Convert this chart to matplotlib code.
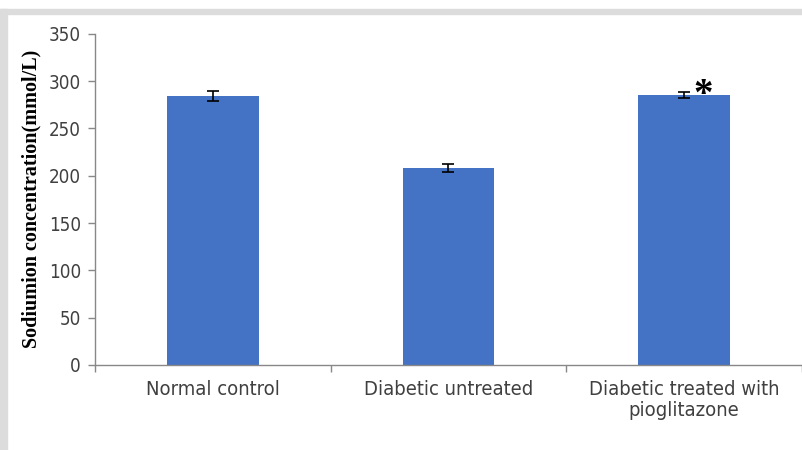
import matplotlib.pyplot as plt
from matplotlib.patches import Rectangle

groups = ["Normal control", "Diabetic untreated", "Diabetic treated with\npioglitazone"]
sodium = [284, 208, 285]
sodium_err = [5, 4.5, 3]
yticks = [0, 50, 100, 150, 200, 250, 300, 350]

fig = plt.figure(figsize=(8.03, 4.5), dpi=100)
ax = fig.add_axes([95 / 803, 85 / 450, 707 / 803, 331.3 / 450])

# light gray frame of the screenshot (top and left bands)
fig.patches.append(Rectangle((0, 1 - 14 / 450), 1, 5 / 450, transform=fig.transFigure,
                             color="#dcdcdc", zorder=0))
fig.patches.append(Rectangle((0, 0), 7 / 803, 1 - 9 / 450, transform=fig.transFigure,
                             color="#dcdcdc", zorder=0))

x = list(range(len(groups)))
ax.bar(x, sodium, width=0.39, color="#4472C4", zorder=2)
ax.errorbar(x, sodium, yerr=sodium_err, fmt="none", ecolor="black",
            elinewidth=1.2, capsize=4, capthick=1.2, zorder=3)

ax.text(2.08, 285, "*", fontsize=28, fontweight="bold", family="Liberation Serif",
        ha="center", va="center")

ax.set_xlim(-0.5, 2.5)
ax.set_ylim(0, 350)
ax.set_yticks(yticks)
ax.set_xticks(x)
ax.set_xticklabels(groups, linespacing=1.1)
ax.set_xticks([-0.5, 0.5, 1.5, 2.5], minor=True)
ax.tick_params(axis="x", which="major", length=0, pad=11)
ax.tick_params(axis="x", which="minor", length=5, color="#888888", width=1)
ax.tick_params(axis="y", length=5, color="#888888", width=1, pad=5)
for lab in ax.get_xticklabels() + ax.get_yticklabels():
    lab.set_family("DejaVu Sans")
    lab.set_stretch("condensed")
    lab.set_color("#404040")
for lab in ax.get_xticklabels():
    lab.set_fontsize(14.5)
for lab in ax.get_yticklabels():
    lab.set_fontsize(13.5)

for side in ["top", "right"]:
    ax.spines[side].set_visible(False)
for side in ["left", "bottom"]:
    ax.spines[side].set_color("#888888")
    ax.spines[side].set_linewidth(1)

ax.set_ylabel("Sodiumion concentration(mmol/L)", family="Liberation Serif",
              fontweight="bold", fontsize=14.5, labelpad=5)

fig.savefig("out.png", dpi=100)
